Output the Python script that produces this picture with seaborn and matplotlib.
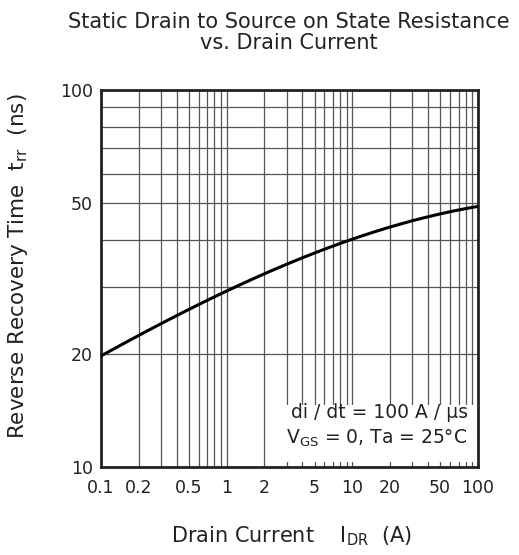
import numpy as np
import pandas as pd
import seaborn as sns
import matplotlib.pyplot as plt
from matplotlib.patches import Rectangle
from matplotlib.ticker import LogLocator, FixedLocator, NullFormatter

# Curva (corriente de drenaje vs tiempo de recuperacion)
corriente = [0.1, 0.2, 0.5, 1, 2, 5, 10, 20, 50, 100]
trr = [19.7, 22.3, 26.2, 29.5, 32.6, 36.4, 40.3, 43.5, 47.2, 48.9]

ticks_x = [0.1, 0.2, 0.5, 1, 2, 5, 10, 20, 50, 100]
etiquetas_x = ["0.1", "0.2", "0.5", "1", "2", "5", "10", "20", "50", "100"]
ticks_y = [10, 20, 50, 100]
etiquetas_y = ["10", "20", "50", "100"]

df = pd.DataFrame({"corriente": corriente, "trr": trr})

sns.set_style("white")
plt.rcParams["font.family"] = ["DejaVu Sans"]
plt.rcParams["mathtext.fontset"] = "dejavusans"

fig = plt.figure(figsize=(5.19, 5.55), dpi=100)
ax = fig.add_axes([0.1946, 0.1586, 0.7264, 0.6792])

# interpolacion suave en escala log-log solo para el trazo
lx = np.log10(df["corriente"])
ly = np.log10(df["trr"])
xs = np.linspace(lx.iloc[0], lx.iloc[-1], 200)
coef = np.polyfit(lx, ly, 3)
curva = pd.DataFrame({"corriente": 10 ** xs, "trr": 10 ** np.polyval(coef, xs)})

sns.lineplot(data=curva, x="corriente", y="trr", ax=ax, color="black", linewidth=2.2, zorder=3)

ax.set_xscale("log")
ax.set_yscale("log")
ax.set_xlim(0.1, 100)
ax.set_ylim(10, 100)

ax.xaxis.set_major_locator(FixedLocator(ticks_x))
ax.set_xticklabels(etiquetas_x)
ax.xaxis.set_minor_locator(LogLocator(base=10, subs=np.arange(2, 10)))
ax.xaxis.set_minor_formatter(NullFormatter())
ax.yaxis.set_major_locator(FixedLocator(ticks_y))
ax.set_yticklabels(etiquetas_y)
ax.yaxis.set_minor_locator(LogLocator(base=10, subs=np.arange(2, 10)))
ax.yaxis.set_minor_formatter(NullFormatter())

ax.grid(True, which="both", color="#555555", linewidth=0.9)
ax.tick_params(which="both", length=0, labelsize=12.5, colors="#222222")
ax.tick_params(axis="x", pad=9)
ax.tick_params(axis="y", pad=6)
for s in ax.spines.values():
    s.set_color("#222222")
    s.set_linewidth(2)
    s.set_visible(True)

ax.set_xlabel("")
ax.set_ylabel("")

# cuadro de condiciones (fondo blanco que tapa la rejilla)
ax.add_patch(Rectangle((0.488, 0.012), 0.512, 0.153, transform=ax.transAxes,
                       facecolor="white", edgecolor="none", zorder=2.5))
ax.text(0.973, 0.13, "di / dt = 100 A / μs", transform=ax.transAxes,
        ha="right", va="baseline", fontsize=13.5, color="#222222", zorder=4)
ax.text(0.973, 0.061, "$\\mathregular{V_{GS}}$ = 0, Ta = 25°C", transform=ax.transAxes,
        ha="right", va="baseline", fontsize=13.5, color="#222222", zorder=4)

fig.text(0.557, 0.979, "Static Drain to Source on State Resistance\nvs. Drain Current",
         ha="center", va="top", fontsize=15, color="#222222", linespacing=1.1)
fig.text(0.034, 0.52, "Reverse Recovery Time  $\\mathregular{t_{rr}}$  (ns)",
         rotation=90, ha="center", va="center", fontsize=15.5, color="#222222")
fig.text(0.561, 0.023, "Drain Current    $\\mathregular{I_{DR}}$  (A)",
         ha="center", va="baseline", fontsize=15, color="#222222")

fig.savefig("out.png", dpi=100)
